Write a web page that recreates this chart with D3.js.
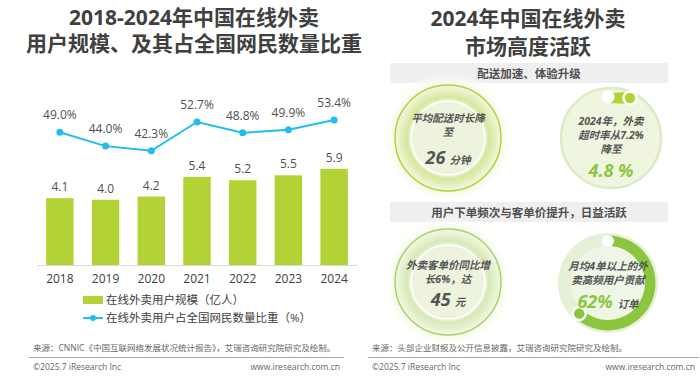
<!DOCTYPE html>
<html>
<head>
<meta charset="utf-8">
<script src="https://cdn.jsdelivr.net/npm/d3@7"></script>
<style>
  body { margin: 0; background: #fff; }
  svg { display: block; font-family: "Open Sans", "Noto Sans CJK SC", sans-serif; }
</style>
</head>
<body>
<svg id="chart" width="700" height="378"></svg>
<script>
// left panel data
var years = ['2018', '2019', '2020', '2021', '2022', '2023', '2024'],
    users = [4.1, 4.0, 4.2, 5.4, 5.2, 5.5, 5.9],          // 亿人
    share = [49.0, 44.0, 42.3, 52.7, 48.8, 49.9, 53.4],   // %
    leftTitle = ['2018-2024年中国在线外卖', '用户规模、及其占全国网民数量比重'],
    legendLabels = ['在线外卖用户规模（亿人）', '在线外卖用户占全国网民数量比重（%）'];

// right panel data
var rightTitle = ['2024年中国在线外卖', '市场高度活跃'],
    sections = ['配送加速、体验升级', '用户下单频次与客单价提升，日益活跃'],
    deliveryText = ['平均配送时长降', '至'], deliveryValue = '26', deliveryUnit = '分钟',
    overtimeText = ['2024年，外卖', '超时率从7.2%', '降至'], overtimeValue = '4.8 %',
    priceText = ['外卖客单价同比增', '长6%，达'], priceValue = '45', priceUnit = '元',
    freqText = ['月均4单以上的外', '卖高频用户贡献'], freqShare = 62, freqUnit = '订单';

var sources = ['来源：CNNIC《中国互联网络发展状况统计报告》，艾瑞咨询研究院研究及绘制。',
               '来源：头部企业财报及公开信息披露，艾瑞咨询研究院研究及绘制。'];

var svg = d3.select('#chart'),
    dark = '#404040',
    barColor = '#b3d235',
    lineColor = '#22bdee';

var defs = svg.append('defs');

// ---------- left panel ----------
var title = svg.append('text')
  .attr('text-anchor', 'middle')
  .attr('font-size', 21).attr('font-weight', 'bold').attr('fill', dark);
title.selectAll('tspan').data(leftTitle).enter().append('tspan')
  .attr('x', 194).attr('y', function(d, i) { return 25 + i * 26; })
  .text(function(d) { return d; });

var x = d3.scaleBand().domain(years).range([37, 357]).paddingInner(0.4).paddingOuter(0.2),
    yBar = d3.scaleLinear().domain([0, 6.5]).range([265, 159]),
    yLine = d3.scaleLinear().domain([0, 60]).range([268, 101.8]);

svg.append('g').selectAll('rect')
  .data(users).enter().append('rect')
  .attr('x', function(d, i) { return x(years[i]); })
  .attr('y', function(d) { return yBar(d); })
  .attr('width', x.bandwidth())
  .attr('height', function(d) { return yBar(0) - yBar(d); })
  .attr('fill', barColor);

svg.append('g').selectAll('text')
  .data(users).enter().append('text')
  .attr('x', function(d, i) { return x(years[i]) + x.bandwidth() / 2; })
  .attr('y', function(d) { return yBar(d) - 7; })
  .attr('text-anchor', 'middle').attr('font-size', 12).attr('fill', '#505050')
  .text(function(d) { return d.toFixed(1); });

var xAxis = svg.append('g')
  .attr('transform', 'translate(0,265)')
  .call(d3.axisBottom(x).tickSize(0).tickPadding(9));
xAxis.select('.domain').attr('stroke', '#d9d9d9');
xAxis.selectAll('text').attr('font-size', 12).attr('fill', dark)
  .attr('font-family', '"Open Sans", sans-serif');

var line = d3.line()
  .x(function(d, i) { return x(years[i]) + x.bandwidth() / 2; })
  .y(function(d) { return yLine(d); });

svg.append('path').datum(share)
  .attr('d', line).attr('fill', 'none')
  .attr('stroke', lineColor).attr('stroke-width', 2);

svg.append('g').selectAll('circle')
  .data(share).enter().append('circle')
  .attr('cx', function(d, i) { return x(years[i]) + x.bandwidth() / 2; })
  .attr('cy', function(d) { return yLine(d); })
  .attr('r', 3.5).attr('fill', lineColor);

svg.append('g').selectAll('text')
  .data(share).enter().append('text')
  .attr('x', function(d, i) { return x(years[i]) + x.bandwidth() / 2; })
  .attr('y', function(d) { return yLine(d) - 13; })
  .attr('text-anchor', 'middle').attr('font-size', 12).attr('fill', '#505050')
  .text(function(d) { return d.toFixed(1) + '%'; });

// legend
var legend = svg.append('g').attr('font-size', 11.5).attr('fill', dark);
legend.append('rect').attr('x', 83).attr('y', 296).attr('width', 20).attr('height', 8).attr('fill', barColor);
legend.append('line').attr('x1', 83).attr('x2', 103).attr('y1', 318).attr('y2', 318)
  .attr('stroke', lineColor).attr('stroke-width', 2);
legend.append('circle').attr('cx', 93).attr('cy', 318).attr('r', 3).attr('fill', lineColor);
legend.selectAll('text').data(legendLabels).enter().append('text')
  .attr('x', 106).attr('y', function(d, i) { return 304 + i * 18; })
  .text(function(d) { return d; });

// ---------- right panel ----------
var rt = svg.append('text')
  .attr('text-anchor', 'middle')
  .attr('font-size', 21).attr('font-weight', 'bold').attr('fill', dark);
rt.selectAll('tspan').data(rightTitle).enter().append('tspan')
  .attr('x', 528).attr('y', function(d, i) { return 26 + i * 28; })
  .text(function(d) { return d; });

var boxY = [63, 202];
sections.forEach(function(s, i) {
  svg.append('rect').attr('x', 390).attr('y', boxY[i]).attr('width', 278).attr('height', 20)
    .attr('fill', '#efefef');
  svg.append('text').attr('x', 529).attr('y', boxY[i] + 14.5)
    .attr('text-anchor', 'middle').attr('font-size', 11.5).attr('font-weight', 'bold')
    .attr('fill', '#505050').text(s);
});

function glow(id, c1, c2) {
  var g = defs.append('radialGradient').attr('id', id);
  g.append('stop').attr('offset', 0).attr('stop-color', c1);
  g.append('stop').attr('offset', 0.56).attr('stop-color', c1);
  g.append('stop').attr('offset', 0.62).attr('stop-color', c2);
  g.append('stop').attr('offset', 0.82).attr('stop-color', '#f6f9ea');
  g.append('stop').attr('offset', 1).attr('stop-color', '#ffffff').attr('stop-opacity', 0);
}
glow('glowA', '#eef3dc', '#d6e79a');
glow('glowB', '#eef4e2', '#d5eab6');

function glowCircle(cx, cy, ring, grad) {
  var g = svg.append('g');
  g.append('circle').attr('cx', cx).attr('cy', cy).attr('r', 66).attr('fill', 'url(#' + grad + ')');
  g.append('circle').attr('cx', cx).attr('cy', cy).attr('r', 53)
    .attr('fill', 'none').attr('stroke', ring).attr('stroke-width', 1.5);
  g.append('circle').attr('cx', cx).attr('cy', cy).attr('r', 37)
    .attr('fill', '#eef3dd').attr('stroke', '#ffffff').attr('stroke-width', 1.5);
}

function lines(cx, y0, dy, arr) {
  svg.append('g').selectAll('text').data(arr).enter().append('text')
    .attr('x', cx).attr('y', function(d, i) { return y0 + i * dy; })
    .attr('text-anchor', 'middle').attr('font-size', 10.5).attr('font-weight', 'bold')
    .attr('font-style', 'italic').attr('fill', '#555')
    .text(function(d) { return d; });
}

function bigValue(cx, y, val, unit, color) {
  var t = svg.append('text').attr('x', cx).attr('y', y).attr('text-anchor', 'middle')
    .attr('font-weight', 'bold').attr('font-style', 'italic').attr('fill', color || '#555');
  t.append('tspan').attr('font-size', 18).text(val);
  if (unit) t.append('tspan').attr('font-size', 10.5).attr('fill', '#555').attr('dx', 4).text(unit);
}

// circle 1
glowCircle(448, 138, '#b3d234', 'glowA');
lines(448, 122, 14, deliveryText);
bigValue(448, 164, deliveryValue, deliveryUnit);

// circle 2
svg.append('circle').attr('cx', 611).attr('cy', 138).attr('r', 50)
  .attr('fill', '#eff5df').attr('stroke', '#dcebc4').attr('stroke-width', 2.5);
svg.append('path')
  .attr('d', 'M609,93 L630,92 L630,104 L609,103 Z').attr('fill', barColor);
svg.append('circle').attr('cx', 608).attr('cy', 97).attr('r', 6.5).attr('fill', '#fff');
svg.append('circle').attr('cx', 630).attr('cy', 98).attr('r', 6.5).attr('fill', barColor)
  .attr('stroke', '#fff').attr('stroke-width', 2.5);
lines(611, 125, 14, overtimeText);
bigValue(611, 177, overtimeValue, null, '#8cc63f');

// circle 3
glowCircle(448, 282, '#a6d46a', 'glowB');
lines(448, 269, 14, priceText);
bigValue(448, 306, priceValue, priceUnit);

// circle 4
var cx4 = 608, cy4 = 283;
svg.append('circle').attr('cx', cx4).attr('cy', cy4).attr('r', 50).attr('fill', '#e5f1d6');
svg.append('circle').attr('cx', cx4).attr('cy', cy4).attr('r', 37).attr('fill', '#eef6e6');
var ang = d3.scaleLinear().domain([0, 100]).range([0, 2 * Math.PI]);
var arc = d3.arc().innerRadius(37).outerRadius(47.5);
svg.append('path')
  .attr('transform', 'translate(' + cx4 + ',' + cy4 + ')')
  .attr('d', arc({ startAngle: ang(0), endAngle: ang(freqShare) }))
  .attr('fill', '#8cc63f');
var endA = ang(freqShare);
svg.append('circle').attr('cx', cx4).attr('cy', cy4 - 42).attr('r', 6).attr('fill', '#fff');
svg.append('circle')
  .attr('cx', cx4 + 42 * Math.sin(endA)).attr('cy', cy4 - 42 * Math.cos(endA))
  .attr('r', 6.5).attr('fill', '#8cc63f').attr('stroke', '#fff').attr('stroke-width', 2.5);
lines(cx4, 270, 14, freqText);
var t4 = svg.append('text').attr('x', cx4).attr('y', 307.5).attr('text-anchor', 'middle')
  .attr('font-weight', 'bold').attr('font-style', 'italic');
t4.append('tspan').attr('font-size', 18).attr('fill', '#8cc63f').text(freqShare + '%');
t4.append('tspan').attr('font-size', 10.5).attr('fill', '#555').attr('dx', 5).text(freqUnit);

// ---------- footers ----------
[[33, 340, sources[0]], [372, 695, sources[1]]].forEach(function(f) {
  var g = svg.append('g').attr('fill', '#666').attr('font-size', 8.5);
  g.append('text').attr('x', f[0]).attr('y', 351).text(f[2]);
  g.append('line').attr('x1', f[0] - 4).attr('x2', f[1] + 4).attr('y1', 357.5).attr('y2', 357.5)
    .attr('stroke', '#a6a6a6').attr('stroke-width', 1.2);
  g.append('text').attr('x', f[0]).attr('y', 370).text('©2025.7 iResearch Inc');
  g.append('text').attr('x', f[1]).attr('y', 370).attr('text-anchor', 'end').text('www.iresearch.com.cn');
});
</script>
</body>
</html>
